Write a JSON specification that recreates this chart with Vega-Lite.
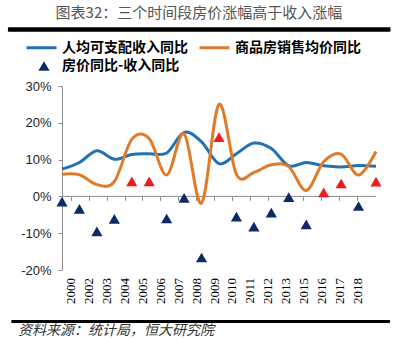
{
  "$schema": "https://vega.github.io/schema/vega-lite/v6.json",
  "width": 314,
  "height": 184,
  "autosize": {"type": "none"},
  "padding": {"left": 62, "top": 86, "right": 24, "bottom": 71},
  "background": "white",
  "config": {
    "view": {"stroke": null},
    "font": "Noto Sans CJK SC",
    "legend": {"fillColor": "transparent", "strokeColor": "transparent"},
    "axisY": {"labelOverlap": false, "grid": false, "domainColor": "#8c8c8c", "tickColor": "#8c8c8c", "tickSize": 4, "labelPadding": 7, "labelFont": "Liberation Sans", "labelFontSize": 13, "labelColor": "#222222", "title": null}
  },
  "datasets": {
    "lines": [
      {"year": 2000, "series": "人均可支配收入同比", "value": 7.4},
      {"year": 2001, "series": "人均可支配收入同比", "value": 9.2},
      {"year": 2002, "series": "人均可支配收入同比", "value": 12.4},
      {"year": 2003, "series": "人均可支配收入同比", "value": 10.1},
      {"year": 2004, "series": "人均可支配收入同比", "value": 11.4},
      {"year": 2005, "series": "人均可支配收入同比", "value": 11.6},
      {"year": 2006, "series": "人均可支配收入同比", "value": 11.8},
      {"year": 2007, "series": "人均可支配收入同比", "value": 17.4},
      {"year": 2008, "series": "人均可支配收入同比", "value": 14.8},
      {"year": 2009, "series": "人均可支配收入同比", "value": 8.9},
      {"year": 2010, "series": "人均可支配收入同比", "value": 11.6},
      {"year": 2011, "series": "人均可支配收入同比", "value": 14.5},
      {"year": 2012, "series": "人均可支配收入同比", "value": 13.0},
      {"year": 2013, "series": "人均可支配收入同比", "value": 8.3},
      {"year": 2014, "series": "人均可支配收入同比", "value": 9.2},
      {"year": 2015, "series": "人均可支配收入同比", "value": 8.3},
      {"year": 2016, "series": "人均可支配收入同比", "value": 8.0},
      {"year": 2017, "series": "人均可支配收入同比", "value": 8.4},
      {"year": 2018, "series": "人均可支配收入同比", "value": 8.2},
      {"year": 2000, "series": "商品房销售均价同比", "value": 6.0},
      {"year": 2001, "series": "商品房销售均价同比", "value": 5.9},
      {"year": 2002, "series": "商品房销售均价同比", "value": 3.2},
      {"year": 2003, "series": "商品房销售均价同比", "value": 4.0},
      {"year": 2004, "series": "商品房销售均价同比", "value": 15.5},
      {"year": 2005, "series": "商品房销售均价同比", "value": 15.7},
      {"year": 2006, "series": "商品房销售均价同比", "value": 5.8},
      {"year": 2007, "series": "商品房销售均价同比", "value": 17.0},
      {"year": 2008, "series": "商品房销售均价同比", "value": -1.8},
      {"year": 2009, "series": "商品房销售均价同比", "value": 25.0},
      {"year": 2010, "series": "商品房销售均价同比", "value": 6.0},
      {"year": 2011, "series": "商品房销售均价同比", "value": 6.5},
      {"year": 2012, "series": "商品房销售均价同比", "value": 8.6},
      {"year": 2013, "series": "商品房销售均价同比", "value": 8.1},
      {"year": 2014, "series": "商品房销售均价同比", "value": 1.6},
      {"year": 2015, "series": "商品房销售均价同比", "value": 9.4},
      {"year": 2016, "series": "商品房销售均价同比", "value": 11.5},
      {"year": 2017, "series": "商品房销售均价同比", "value": 5.8},
      {"year": 2018, "series": "商品房销售均价同比", "value": 12.2}
    ],
    "gap": [
      {"year": 2000, "series": "房价同比-收入同比", "diff": -1.4},
      {"year": 2001, "series": "房价同比-收入同比", "diff": -3.4},
      {"year": 2002, "series": "房价同比-收入同比", "diff": -9.5},
      {"year": 2003, "series": "房价同比-收入同比", "diff": -6.1},
      {"year": 2004, "series": "房价同比-收入同比", "diff": 4.1},
      {"year": 2005, "series": "房价同比-收入同比", "diff": 4.1},
      {"year": 2006, "series": "房价同比-收入同比", "diff": -6.0},
      {"year": 2007, "series": "房价同比-收入同比", "diff": -0.4},
      {"year": 2008, "series": "房价同比-收入同比", "diff": -16.6},
      {"year": 2009, "series": "房价同比-收入同比", "diff": 16.1},
      {"year": 2010, "series": "房价同比-收入同比", "diff": -5.5},
      {"year": 2011, "series": "房价同比-收入同比", "diff": -8.2},
      {"year": 2012, "series": "房价同比-收入同比", "diff": -4.4},
      {"year": 2013, "series": "房价同比-收入同比", "diff": -0.2},
      {"year": 2014, "series": "房价同比-收入同比", "diff": -7.6},
      {"year": 2015, "series": "房价同比-收入同比", "diff": 1.1},
      {"year": 2016, "series": "房价同比-收入同比", "diff": 3.5},
      {"year": 2017, "series": "房价同比-收入同比", "diff": -2.6},
      {"year": 2018, "series": "房价同比-收入同比", "diff": 4.0}
    ],
    "labels": [
      {"label": "2000"}, {"label": "2002"}, {"label": "2003"}, {"label": "2004"},
      {"label": "2005"}, {"label": "2006"}, {"label": "2007"}, {"label": "2008"},
      {"label": "2009"}, {"label": "2010"}, {"label": "2011"}, {"label": "2012"},
      {"label": "2013"}, {"label": "2015"}, {"label": "2016"}, {"label": "2017"},
      {"label": "2018"}
    ]
  },
  "layer": [
    {
      "data": {"values": [{}]},
      "mark": {"type": "rule", "color": "#8c8c8c", "strokeWidth": 1},
      "encoding": {
        "y": {
          "datum": 0, "type": "quantitative", "scale": {"domain": [-20, 30], "nice": false},
          "axis": {"values": [-20, -10, 0, 10, 20, 30], "tickCount": 12, "labelExpr": "datum.value + '%'", "labelOverlap": false}
        }
      }
    },
    {
      "data": {"values": [{}]},
      "mark": {"type": "point", "opacity": 0},
      "encoding": {
        "x": {
          "datum": 2007, "type": "quantitative",
          "scale": {"domain": [2000, 2018], "range": [-54, 328], "nice": false, "zero": false},
          "axis": {"orient": "top", "offset": 57, "domain": true, "domainWidth": 4, "domainColor": "#000000", "ticks": false, "labels": false, "grid": false, "title": null}
        }
      }
    },
    {
      "data": {"name": "labels"},
      "mark": {"type": "point", "opacity": 0},
      "encoding": {
        "x": {
          "field": "label", "type": "ordinal", "sort": null,
          "scale": {"type": "point", "range": [0, 304]},
          "axis": {
            "orient": "bottom", "offset": -73.6, "domain": false, "ticks": true, "tickSize": 4, "tickColor": "#8c8c8c",
            "labelAngle": -90, "labelPadding": 77, "labelFont": "Liberation Serif", "labelFontSize": 13, "labelColor": "#000000", "title": null
          }
        }
      }
    },
    {
      "data": {"name": "lines"},
      "mark": {"type": "line", "interpolate": "cardinal", "strokeWidth": 3},
      "encoding": {
        "x": {"field": "year", "type": "quantitative", "scale": {"domain": [2000, 2018], "nice": false, "zero": false}, "axis": null},
        "y": {
          "field": "value", "type": "quantitative", "scale": {"domain": [-20, 30], "nice": false},
          "axis": {"values": [-20, -10, 0, 10, 20, 30], "tickCount": 12, "labelExpr": "datum.value + '%'", "labelOverlap": false}
        },
        "color": {
          "field": "series", "type": "nominal",
          "scale": {"domain": ["人均可支配收入同比", "商品房销售均价同比"], "range": ["#2271b3", "#e07b2a"]},
          "legend": {
            "orient": "none", "legendX": -37, "legendY": -55, "direction": "horizontal", "title": null,
            "fillColor": "transparent", "strokeColor": "transparent",
            "symbolType": "stroke", "symbolStrokeWidth": 3, "symbolSize": 900, "labelFontSize": 14, "labelFontWeight": "bold",
            "labelFont": "Noto Sans CJK SC", "labelColor": "#000000", "labelOffset": 4, "columnPadding": 5, "labelLimit": 300
          }
        }
      }
    },
    {
      "data": {"name": "gap"},
      "mark": {"type": "point", "filled": true, "size": 125, "opacity": 1},
      "encoding": {
        "x": {"field": "year", "type": "quantitative", "scale": {"domain": [2000, 2018], "nice": false, "zero": false}, "axis": null},
        "y": {"field": "diff", "type": "quantitative", "scale": {"domain": [-20, 30], "nice": false}},
        "shape": {
          "field": "series", "type": "nominal",
          "scale": {"range": ["triangle-up"]},
          "legend": {
            "orient": "none", "legendX": -25, "legendY": -27, "title": null, "symbolFillColor": "#0d2a66", "symbolStrokeColor": "#0d2a66",
            "fillColor": "transparent", "strokeColor": "transparent",
            "symbolSize": 125, "labelFontSize": 14, "labelFontWeight": "bold", "labelFont": "Noto Sans CJK SC", "labelColor": "#000000", "labelOffset": 11
          }
        },
        "fill": {"condition": {"test": "datum.diff > 0", "value": "#ee1c1c"}, "value": "#0d2a66"}
      }
    },
    {
      "data": {"values": [{}]},
      "mark": {"type": "text", "text": "图表32：三个时间段房价涨幅高于收入涨幅", "align": "center", "baseline": "middle", "fontSize": 15, "color": "#555555", "font": "Noto Sans CJK SC", "clip": false},
      "encoding": {
        "x": {"datum": 2007.85, "type": "quantitative", "scale": {"domain": [2000, 2018], "nice": false, "zero": false}, "axis": null},
        "y": {"datum": 49.8, "type": "quantitative", "scale": {"domain": [-20, 30], "nice": false}}
      }
    },
    {
      "data": {"values": [{}]},
      "mark": {"type": "rect", "color": "#000000", "clip": false},
      "encoding": {
        "x": {"datum": 1996.9, "type": "quantitative", "scale": {"domain": [2000, 2018], "nice": false, "zero": false}, "axis": null},
        "x2": {"datum": 2018.8},
        "y": {"datum": 45.9, "type": "quantitative", "scale": {"domain": [-20, 30], "nice": false}},
        "y2": {"datum": 44.8}
      }
    },
    {
      "data": {"values": [{}]},
      "mark": {"type": "rect", "color": "#000000", "clip": false},
      "encoding": {
        "x": {"datum": 1997.1, "type": "quantitative", "scale": {"domain": [2000, 2018], "nice": false, "zero": false}, "axis": null},
        "x2": {"datum": 2018.8},
        "y": {"datum": -33.6, "type": "quantitative", "scale": {"domain": [-20, 30], "nice": false}},
        "y2": {"datum": -34.4}
      }
    },
    {
      "data": {"values": [{}]},
      "mark": {"type": "text", "text": "资料来源：统计局，恒大研究院", "align": "left", "baseline": "middle", "fontSize": 14, "fontStyle": "italic", "color": "#333333", "font": "Noto Sans CJK SC", "clip": false},
      "encoding": {
        "x": {"datum": 1997.48, "type": "quantitative", "scale": {"domain": [2000, 2018], "nice": false, "zero": false}, "axis": null},
        "y": {"datum": -36.6, "type": "quantitative", "scale": {"domain": [-20, 30], "nice": false}}
      }
    }
  ],
  "resolve": {"scale": {"x": "independent"}, "axis": {"x": "independent"}}
}
